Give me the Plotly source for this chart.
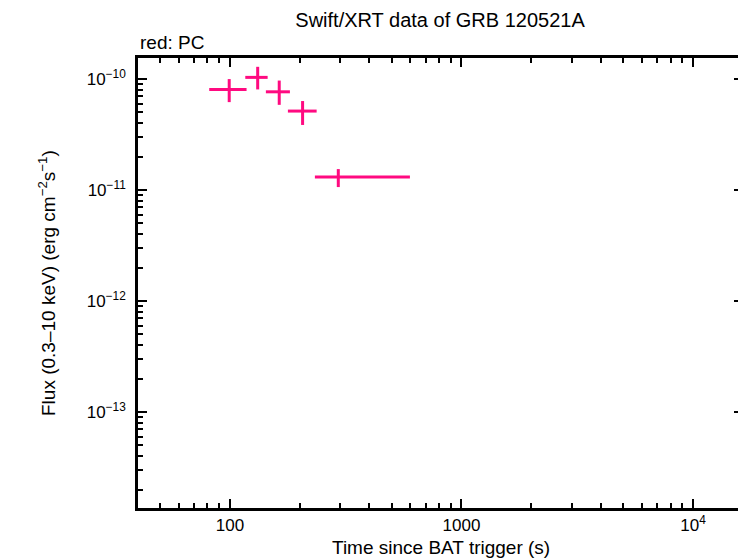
import plotly.graph_objects as go

# PC mode light curve points (time in s, flux in erg/cm2/s)
time = [99.3, 131.8, 163.3, 206.0, 293.8]
time_lo = [81.4, 116.5, 143.0, 178.0, 232.8]
time_hi = [118.0, 145.5, 181.6, 236.9, 599.0]
flux = [8.07e-11, 1.036e-10, 7.68e-11, 5.15e-11, 1.31e-11]
flux_lo = [6.2e-11, 8.07e-11, 5.86e-11, 3.86e-11, 1.064e-11]
flux_hi = [1.0e-10, 1.29e-10, 9.7e-11, 6.34e-11, 1.545e-11]

x_ticks = [100, 1000, 10000]
x_labels = ["100", "1000", "10<sup>4</sup>"]
y_ticks = [1e-13, 1e-12, 1e-11, 1e-10]
y_labels = ["10<sup>−13</sup>", "10<sup>−12</sup>", "10<sup>−11</sup>", "10<sup>−10</sup>"]

x_minor = [m * 10 ** d for d in range(1, 5) for m in range(2, 10)]
y_minor = [m * 10.0 ** d for d in range(-14, -9) for m in range(2, 10)]

pink = "#ff0a80"

fig = go.Figure()
fig.add_trace(go.Scatter(
    x=time, y=flux, mode="markers",
    marker=dict(size=1, color=pink),
    error_x=dict(type="data", symmetric=False,
                 array=[h - t for h, t in zip(time_hi, time)],
                 arrayminus=[t - l for t, l in zip(time, time_lo)],
                 color=pink, thickness=3, width=0),
    error_y=dict(type="data", symmetric=False,
                 array=[h - f for h, f in zip(flux_hi, flux)],
                 arrayminus=[f - l for f, l in zip(flux, flux_lo)],
                 color=pink, thickness=3, width=0),
    showlegend=False,
))

axis_common = dict(
    showline=True, linecolor="black", linewidth=2.5, mirror="ticks",
    ticks="inside", ticklen=9, tickwidth=2, tickcolor="black",
    showgrid=False, zeroline=False, automargin=False,
    tickfont=dict(size=17, color="black"),
)
minor_common = dict(ticks="inside", ticklen=5, tickwidth=2, tickcolor="black", showgrid=False)

fig.update_xaxes(type="log", range=[1.603, 4.216],
                 tickvals=x_ticks, ticktext=x_labels, ticklabelstandoff=0,
                 minor=dict(tickvals=x_minor, **minor_common),
                 **axis_common)
fig.update_yaxes(type="log", range=[-13.865, -9.81],
                 tickvals=y_ticks, ticktext=y_labels, ticklabelstandoff=6,
                 minor=dict(tickvals=y_minor, **minor_common),
                 **axis_common)

# page body adds an 8px offset, so the figure is a bit smaller than the window
fig.update_layout(
    width=738, height=550,
    margin=dict(l=130, r=3, t=50, b=50),
    paper_bgcolor="white", plot_bgcolor="white",
    font=dict(family="Liberation Sans, Arial, sans-serif", color="black"),
    title=dict(text="Swift/XRT data of GRB 120521A", x=0.5854, xanchor="center",
               y=0.978, yanchor="middle", font=dict(size=20, color="black")),
    annotations=[
        dict(text="red: PC", xref="paper", yref="paper", x=0, y=1.0,
             xanchor="left", yanchor="bottom", yshift=3, showarrow=False,
             font=dict(size=19, color="black")),
        dict(text="Time since BAT trigger (s)", xref="paper", yref="paper", x=0.5, y=0,
             xanchor="center", yanchor="middle", yshift=-39, showarrow=False,
             font=dict(size=19, color="black")),
        dict(text="Flux (0.3–10 keV) (erg cm<sup>−2</sup>s<sup>−1</sup>)", xref="paper", yref="paper",
             x=0, y=0.5, xanchor="center", yanchor="middle", xshift=-91, textangle=-90,
             showarrow=False, font=dict(size=19, color="black")),
    ],
)

fig.write_html("out.html")
